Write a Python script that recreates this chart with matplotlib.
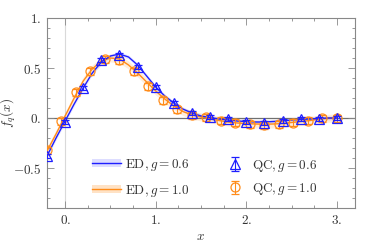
import numpy as np
import matplotlib
matplotlib.use("Agg")
import matplotlib.pyplot as plt
from matplotlib.patches import Patch
from matplotlib.lines import Line2D
from matplotlib.ticker import MultipleLocator, FixedLocator

plt.rcParams['mathtext.fontset'] = 'cm'
plt.rcParams['font.family'] = ['DejaVu Serif']

BLUE = '#1f1fff'
ORANGE = '#ff8c1a'

# ED curves
ed_x = [-0.2, -0.1, 0.0, 0.1, 0.2, 0.3, 0.4, 0.5, 0.6, 0.7, 0.8, 0.9, 1.0, 1.1, 1.2, 1.3,
        1.4, 1.5, 1.6, 1.7, 1.8, 1.9, 2.0, 2.1, 2.2, 2.3, 2.4, 2.5, 2.6, 2.7, 2.8, 2.9, 3.0]
ed_g06 = [-0.38, -0.20, -0.03, 0.14, 0.30, 0.45, 0.56, 0.62, 0.64, 0.61, 0.53, 0.42, 0.31,
          0.22, 0.15, 0.09, 0.05, 0.02, 0.005, -0.01, -0.02, -0.03, -0.035, -0.04, -0.04,
          -0.035, -0.03, -0.02, -0.015, -0.01, -0.005, 0.0, 0.0]
ed_g10 = [-0.33, -0.16, 0.02, 0.20, 0.37, 0.49, 0.57, 0.60, 0.59, 0.53, 0.45, 0.36, 0.27,
          0.19, 0.12, 0.065, 0.03, 0.01, -0.01, -0.025, -0.04, -0.05, -0.055, -0.06, -0.062,
          -0.06, -0.055, -0.045, -0.035, -0.025, -0.012, -0.003, 0.0]
ed_band06 = 0.02
ed_band10 = 0.04

# QC data
qc06_x = [-0.2, 0.0, 0.2, 0.4, 0.6, 0.8, 1.0, 1.2, 1.4, 1.6, 1.8, 2.0, 2.2, 2.4, 2.6, 2.8, 3.0]
qc06_y = [-0.38, -0.04, 0.30, 0.58, 0.63, 0.51, 0.31, 0.15, 0.05, 0.01, -0.01, -0.04, -0.045,
          -0.03, -0.013, -0.005, 0.0]
qc06_err = [0.02] * 17

qc10_x = [-0.2, -0.04, 0.12, 0.28, 0.44, 0.6, 0.76, 0.92, 1.08, 1.24, 1.4, 1.56, 1.72, 1.88,
          2.04, 2.2, 2.36, 2.52, 2.68, 2.84, 3.0]
qc10_y = [-0.32, -0.03, 0.26, 0.47, 0.59, 0.58, 0.47, 0.32, 0.18, 0.09, 0.03, 0.007, -0.027,
          -0.047, -0.06, -0.07, -0.06, -0.047, -0.027, -0.003, 0.0]
qc10_err = [0.035] * 21

x_ticks = [0, 1, 2, 3]
x_labels = ['$0.$', '$1.$', '$2.$', '$3.$']
y_ticks = [-0.5, 0, 0.5, 1]
y_labels = ['$-0.5$', '$0.$', '$0.5$', '$1.$']

fig = plt.figure(figsize=(3.74, 2.46), dpi=100)
ax = fig.add_axes([47/374, 38/246, 308/374, 190/246])

ax.axvline(0, color='#d9d9d9', lw=0.8, zorder=0)
ax.axhline(0, color='#707070', lw=0.9, zorder=0)

ex = np.array(ed_x)
e6 = np.array(ed_g06)
e10 = np.array(ed_g10)
ax.fill_between(ex, e10 - ed_band10, e10 + ed_band10, color=ORANGE, alpha=0.15, lw=0, zorder=1)
ax.fill_between(ex, e6 - ed_band06, e6 + ed_band06, color=BLUE, alpha=0.10, lw=0, zorder=1)
ax.plot(ex, e10, color=ORANGE, lw=1.0, zorder=2)
ax.plot(ex, e6, color=BLUE, lw=1.0, zorder=3)

eb10 = ax.errorbar(qc10_x, qc10_y, yerr=qc10_err, fmt='o', ms=6.5, mfc='none', mec=ORANGE,
                   mew=0.9, ecolor=ORANGE, elinewidth=0.8, capsize=3, capthick=0.8,
                   color=ORANGE, zorder=4)
eb06 = ax.errorbar(qc06_x, qc06_y, yerr=qc06_err, fmt='^', ms=6.5, mfc='none', mec=BLUE,
                   mew=0.9, ecolor=BLUE, elinewidth=0.8, capsize=3, capthick=0.8,
                   color=BLUE, zorder=5)

ax.set_xlim(-0.2, 3.2)
ax.set_ylim(-0.9, 1.0)
ax.xaxis.set_major_locator(FixedLocator(x_ticks))
ax.set_xticklabels(x_labels)
ax.xaxis.set_minor_locator(MultipleLocator(0.25))
ax.yaxis.set_major_locator(FixedLocator(y_ticks))
ax.set_yticklabels(y_labels)
ax.yaxis.set_minor_locator(MultipleLocator(0.1))
ax.tick_params(which='both', direction='in', top=True, right=True, color='#888888',
               labelsize=9.5, labelcolor='#333333', width=0.6)
ax.tick_params(which='major', length=5, pad=4)
ax.tick_params(which='minor', length=2.5)
for s in ax.spines.values():
    s.set_color('#888888')
    s.set_linewidth(0.8)

ax.set_xlabel('$x$', fontsize=9.5, color='#333333')
ax.set_ylabel('$f_q(x)$', fontsize=9.5, color='#333333')
ax.xaxis.set_label_coords((200 - 47) / 308, -0.115)
ax.yaxis.set_label_coords(-0.095, (208 - 113) / 190)

h_ed06 = (Patch(color=BLUE, alpha=0.15, lw=0), Line2D([], [], color=BLUE, lw=1.0))
h_ed10 = (Patch(color=ORANGE, alpha=0.25, lw=0), Line2D([], [], color=ORANGE, lw=1.0))
leg1 = ax.legend([h_ed06, h_ed10], [r'$\mathrm{ED}, g = 0.6$', r'$\mathrm{ED}, g = 1.0$'],
                 loc='center left', bbox_to_anchor=(0.13, 0.16), frameon=False,
                 fontsize=9.5, handlelength=2.2, handleheight=0.5, labelspacing=0.75,
                 handletextpad=0.3, borderaxespad=0)
for t in leg1.get_texts():
    t.set_color('#333333')
ax.add_artist(leg1)
leg2 = ax.legend([eb06, eb10], [r'$\mathrm{QC}, g = 0.6$', r'$\mathrm{QC}, g = 1.0$'],
                 loc='center left', bbox_to_anchor=(0.56, 0.16), frameon=False,
                 fontsize=9.5, handlelength=1.6, handleheight=0.9, labelspacing=0.55,
                 handletextpad=0.5, borderaxespad=0)
for t in leg2.get_texts():
    t.set_color('#333333')

fig.savefig('out.png', dpi=100)
